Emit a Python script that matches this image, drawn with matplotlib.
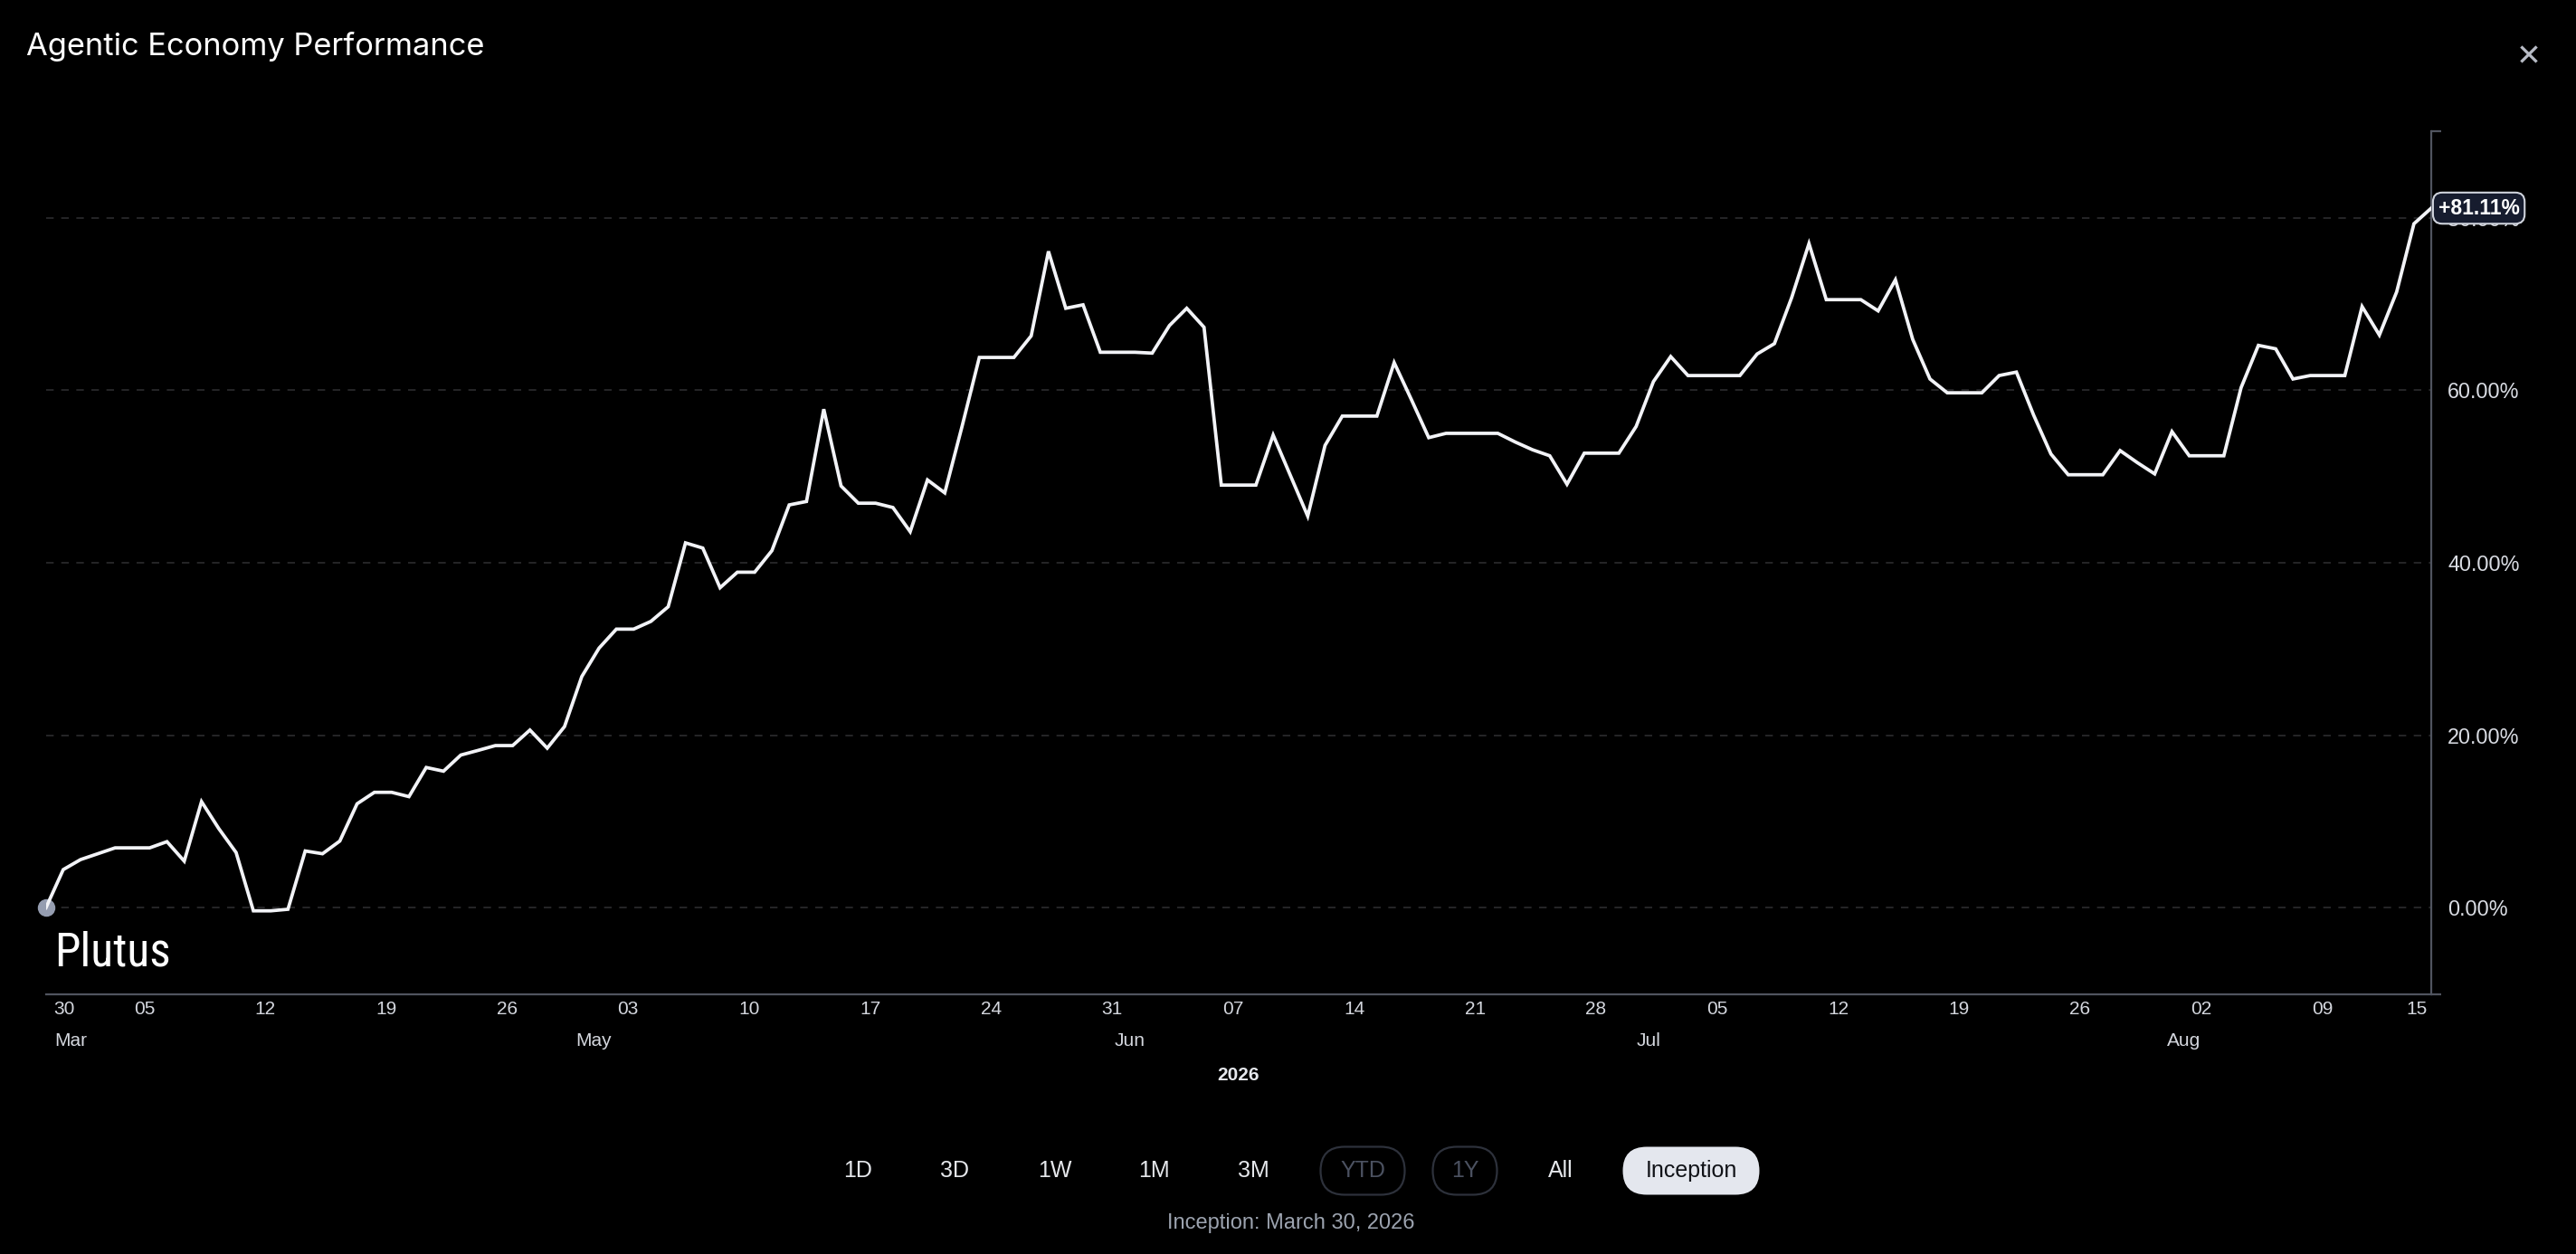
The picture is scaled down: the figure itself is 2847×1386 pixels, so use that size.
import numpy as np
import pandas as pd
import matplotlib
matplotlib.use("Agg")
import matplotlib.pyplot as plt
import matplotlib.transforms as mtransforms
from matplotlib import font_manager
from matplotlib.patches import FancyBboxPatch

# Data: daily cumulative performance (%) since inception
start_date = "2026-03-30"
perf = [
    0.0, 4.42, 5.58, 6.26, 6.94, 6.94, 6.94, 7.66, 5.40, 12.3,
    9.17, 6.40, -0.36, -0.36, -0.18, 6.58, 6.26, 7.73, 12.05, 13.38,
    13.38, 12.88, 16.26, 15.83, 17.7, 18.24, 18.8, 18.8, 20.6, 18.5,
    21.0, 26.8, 30.1, 32.3, 32.3, 33.2, 34.9, 42.3, 41.7, 37.1,
    38.9, 38.9, 41.4, 46.7, 47.1, 57.8, 48.9, 46.9, 46.9, 46.4,
    43.6, 49.6, 48.1, 55.8, 63.8, 63.8, 63.8, 66.3, 76.1, 69.5,
    69.9, 64.4, 64.4, 64.4, 64.3, 67.5, 69.5, 67.3, 49.0, 49.0,
    49.0, 54.8, 50.1, 45.4, 53.6, 57.0, 57.0, 57.0, 63.2, 58.9,
    54.5, 55.0, 55.0, 55.0, 55.0, 54.0, 53.1, 52.4, 49.1, 52.7,
    52.7, 52.7, 55.8, 61.0, 63.9, 61.7, 61.7, 61.7, 61.7, 64.2,
    65.4, 70.75, 77.0, 70.5, 70.5, 70.5, 69.2, 72.8, 65.9, 61.3,
    59.7, 59.7, 59.7, 61.7, 62.1, 57.1, 52.6, 50.2, 50.2, 50.2,
    53.0, 51.6, 50.3, 55.2, 52.4, 52.4, 52.4, 60.3, 65.2, 64.8,
    61.3, 61.7, 61.7, 61.7, 69.7, 66.4, 71.4, 79.3, 81.11,
]
dates = pd.date_range(start_date, periods=len(perf), freq="D")

y_ticks = [0, 20, 40, 60, 80]
y_limits = (-10, 90)
buttons = ["1D", "3D", "1W", "1M", "3M", "YTD", "1Y", "All", "Inception"]
disabled = ["YTD", "1Y"]
active = "Inception"

# fonts
def has_font(name, **kw):
    try:
        font_manager.findfont(font_manager.FontProperties(family=name, **kw),
                              fallback_to_default=False)
        return True
    except Exception:
        return False

ui_font = "Liberation Sans"
title_font = "Inter" if has_font("Inter") else ui_font
narrow = dict(family=ui_font)
for cand in ["Liberation Sans Narrow", "Roboto Condensed", "Arimo Narrow"]:
    if has_font(cand):
        narrow = dict(family=cand)
        break

W, H = 2847, 1386
fig = plt.figure(figsize=(W / 100, H / 100), dpi=100, facecolor="black")

ax = fig.add_axes([50.8 / W, 1 - 1098.6 / H, (2687 - 50.8) / W, (1098.6 - 145.3) / H])
ax.set_facecolor("black")

ax.plot(dates, perf, color="#f2f3f7", lw=2.7, zorder=3, solid_joinstyle="miter")
ax.plot(dates[0], perf[0], "o", ms=13, color="#959db0", zorder=2, clip_on=False)

ax.set_xlim(dates[0], dates[-1])
ax.set_ylim(*y_limits)

# y axis on the right
ax.yaxis.tick_right()
ax.set_yticks(y_ticks)
ax.set_yticks(list(y_limits), minor=True)
ax.yaxis.set_major_formatter(lambda v, p: f"{v:.2f}%")
ax.tick_params(axis="y", which="major", length=0, pad=13, labelsize=16.8,
               labelcolor="#d9dce3", labelfontfamily=ui_font)
ax.tick_params(axis="y", which="minor", length=8, width=1.6, color="#50545f")
ax.grid(axis="y", which="major", color="#2c2c2e", ls=(0, (5, 5)), lw=1.2)

# x axis: weekly ticks plus first and last day
sundays = pd.date_range(dates[0], dates[-1], freq="W-SUN")
x_ticks = [dates[0]] + list(sundays) + [dates[-1]]
ax.set_xticks(x_ticks)
ax.set_xticklabels([d.strftime("%d") for d in x_ticks])
ax.tick_params(axis="x", length=0, pad=5, labelsize=15, labelcolor="#d4d7de",
               labelfontfamily=ui_font)
shift_left = mtransforms.ScaledTranslation(-6 / 100, 0, fig.dpi_scale_trans)
xt = ax.get_xticklabels()
for t in xt[1:-1]:
    t.set_transform(t.get_transform() + shift_left)
xt[0].set_ha("left")
xt[0].set_transform(xt[0].get_transform() + mtransforms.ScaledTranslation(8 / 100, 0, fig.dpi_scale_trans))
xt[-1].set_ha("right")
xt[-1].set_transform(xt[-1].get_transform() + mtransforms.ScaledTranslation(-4 / 100, 0, fig.dpi_scale_trans))

for side in ["top", "left"]:
    ax.spines[side].set_visible(False)
for side in ["bottom", "right"]:
    ax.spines[side].set_color("#50545f")
    ax.spines[side].set_linewidth(1.6)

# month row
month_starts = pd.date_range(dates[0], dates[-1], freq="MS")
months = [(dates[0], dates[0].strftime("%b"), "left", 7)]
for m in month_starts:
    if (m - dates[0]).days > 10:
        months.append((m, m.strftime("%b"), "center", -4))
for d, lab, ha, dx in months:
    ax.annotate(lab, xy=(d, 0), xycoords=("data", "axes fraction"), xytext=(dx, -37.5),
                textcoords="offset points", ha=ha, va="center", fontsize=15,
                color="#d4d7de", family=ui_font)
ax.annotate(str(dates[0].year), xy=(0.5, 0), xycoords="axes fraction", xytext=(0, -64.5),
            textcoords="offset points", ha="center", va="center", fontsize=15,
            fontweight="bold", color="#e6e8ed", family=ui_font)

# last value badge
ax.annotate(f"+{perf[-1]:.2f}%", xy=(dates[-1], perf[-1]), xytext=(5.5, 0),
            textcoords="offset points", ha="left", va="center", fontsize=16.5,
            fontweight="bold", color="white", family=ui_font, zorder=6,
            annotation_clip=False,
            bbox=dict(boxstyle="round,pad=0.25,rounding_size=0.45", fc="#161c2e",
                      ec="#cfd3dc", lw=1.5))

# header and watermark
fig.text(29 / W, 1 - 52 / H, "Agentic Economy Performance", ha="left", va="center",
         fontsize=24.8, color="white", family=title_font)
fig.text(2795 / W, 1 - 63 / H, "\u2715", ha="center", va="center", fontsize=24,
         color="#b8bcc6", family="DejaVu Sans")
fig.text(60 / W, 1 - 1068 / H, "Plutus", ha="left", va="baseline", fontsize=37,
         color="white", **narrow)

# range selector buttons (pixel coordinates overlay, origin bottom-left)
ui = fig.add_axes([0, 0, 1, 1])
ui.set_xlim(0, W)
ui.set_ylim(0, H)
ui.axis("off")
btn_x = [948, 1055, 1166, 1275, 1385, 1506, 1619, 1725, 1869]
btn_w = {"YTD": 93, "1Y": 71, "Inception": 151}
btn_y, btn_h = H - 1294, 53
for lab, x in zip(buttons, btn_x):
    color = "#e5e7eb"
    if lab in disabled or lab == active:
        w = btn_w[lab]
        if lab == active:
            color = "#111318"
            fc, ec = "#e4e7ee", "none"
        else:
            color = "#4b5160"
            fc, ec = "none", "#2d313b"
        ui.add_patch(FancyBboxPatch((x - w / 2, btn_y - btn_h / 2), w, btn_h,
                                    boxstyle=f"round,pad=0,rounding_size={btn_h / 2}",
                                    fc=fc, ec=ec, lw=1.6))
    ui.text(x, btn_y, lab, ha="center", va="center", fontsize=18, color=color, family=ui_font)

ui.text(1427, H - 1352, f"Inception: {dates[0].strftime('%B')} {dates[0].day}, {dates[0].year}",
        ha="center", va="center", fontsize=17, color="#9ca3af", family=ui_font)

fig.savefig("out.png", dpi=100, facecolor="black")
